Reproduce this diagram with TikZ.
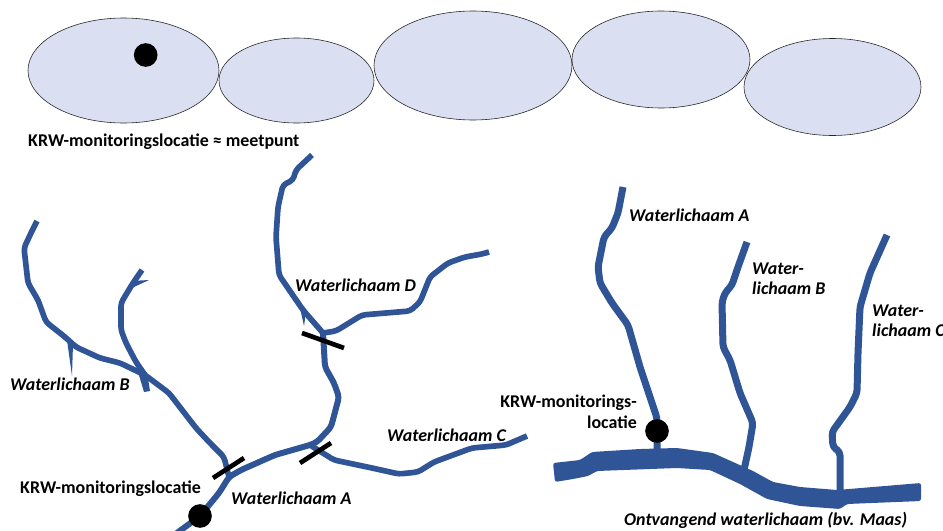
\documentclass[tikz,border=0pt]{standalone}
\usepackage{fontspec}
\setmainfont{Carlito}
\usepackage{tikz}
\usetikzlibrary{positioning,shapes.geometric}
\definecolor{riverblue}{RGB}{47,85,151}
\definecolor{lakefill}{RGB}{218,224,242}
\begin{document}
\begin{tikzpicture}[
    x=0.03cm, y=-0.03cm,
    lake/.style={draw=black!85, fill=lakefill, ellipse, inner sep=0pt, line width=0.5pt},
    river/.style={draw=riverblue, line width=0.18cm, line join=round, rounded corners=3pt},
    thinriver/.style={draw=riverblue, line width=0.17cm, line join=round, rounded corners=3pt},
    wideriver/.style={draw=riverblue, line width=0.21cm, line join=round, rounded corners=3pt},
    barb/.style={fill=riverblue},
    tick/.style={draw=black, line width=0.14cm},
    site/.style={circle, fill=black, minimum size=0.71cm, inner sep=0pt},
    lbl/.style={font=\fontsize{15.3pt}{18pt}\selectfont\bfseries, align=center, inner sep=0pt},
    wlbl/.style={font=\fontsize{15.3pt}{17pt}\selectfont\bfseries\itshape, align=left, inner sep=0pt}
]
    \useasboundingbox (0,0) rectangle (943,531);

    % Water bodies on top
    \node[lake, minimum width=5.73cm, minimum height=3.15cm] (lake1) at (123.5,70.5) {};
    \node[lake, minimum width=4.65cm, minimum height=2.55cm] (lake2) at (296.5,80.5) {};
    \node[lake, minimum width=5.94cm, minimum height=3.27cm] (lake3) at (473,65.5) {};
    \node[lake, minimum width=5.34cm, minimum height=2.91cm] (lake4) at (661,59.5) {};
    \node[lake, minimum width=5.31cm, minimum height=2.91cm] (lake5) at (832.5,87) {};
    \node[site] (site1) at (145.7,55) {};
    \node[lbl, anchor=west] (toplabel) at (28,142) {KRW-monitoringslocatie ≈ meetpunt};

    % Left river system
    \coordinate (mouth) at (177,533);
    \coordinate (junction) at (229,477);
    \coordinate (fork) at (145,375);
    \coordinate (forkc) at (310,445);
    \coordinate (forkd) at (323,333);
    \draw[river] (mouth) -- (200,516) -- (219,493) -- (junction) -- (241,470) -- (275,455) -- (forkc)
        -- (317,442) -- (331,427) -- (339,397) -- (334,383) -- (325,367) -- (forkd);
    \draw[thinriver] (forkd) -- (303,310) -- (279,275) -- (276,237) -- (278,207) -- (283,185)
        -- (293,180) -- (296,170) -- (312,155);
    \draw[thinriver] (forkd) -- (336,331) -- (362,315) -- (410,311) -- (420,302) -- (430,277)
        -- (448,263) -- (465,257) -- (482,254) -- (489,252);
    \draw[thinriver] (forkc) -- (334,460) -- (372,468) -- (399,474) -- (418,472) -- (434,462)
        -- (472,448) -- (506,445) -- (527,436);
    \draw[thinriver] (junction) -- (224,457) -- (210,443) -- (196,428) -- (169,393) -- (fork)
        -- (120,363) -- (100,358) -- (76,347) -- (65,337) -- (46,322) -- (38,300) -- (28,283)
        -- (24,248) -- (31,233) -- (37,221);
    \draw[thinriver] (fork) -- (136,362) -- (126,343) -- (121,330) -- (121,303) -- (133,283) -- (142,270);
    \fill[barb] (131,281) -- (149,280) -- (134,287) -- cycle;
    \fill[barb] (67,340) -- (72,376) -- (73,344) -- cycle;
    \fill[barb] (138,372) -- (144,392) -- (150,391) -- (147,372) -- cycle;
    \fill[barb] (300,308) -- (304,326) -- (306,312) -- cycle;

    % Boundaries
    \coordinate (t1a) at (302,333); \coordinate (t1b) at (344,348);
    \coordinate (t2a) at (213,478); \coordinate (t2b) at (244,458);
    \coordinate (t3a) at (300,463); \coordinate (t3b) at (331,443);
    \draw[tick] (t1a) -- (t1b);
    \draw[tick] (t2a) -- (t2b);
    \draw[tick] (t3a) -- (t3b);
    \node[site] (site2) at (200,516) {};

    % Labels left
    \node[wlbl, anchor=west] (wd) at (295,285) {Waterlichaam D};
    \node[wlbl, anchor=west] (wb) at (10,384) {Waterlichaam B};
    \node[wlbl, anchor=west] (wc) at (387,435) {Waterlichaam C};
    \node[wlbl, anchor=west] (wa) at (231,498) {Waterlichaam A};
    \node[lbl, anchor=west] (sitelabel) at (20,489) {KRW-monitoringslocatie};

    % Right river system
    \fill[riverblue, rounded corners=2pt] (553,463) -- (580,460) -- (592,452) -- (640,449) -- (677,448) -- (713,453)
        -- (753,471) -- (773,482) -- (800,487) -- (837,490) -- (921,483) -- (921,501) -- (847,504)
        -- (840,509) -- (800,506) -- (767,499) -- (740,484) -- (710,470) -- (677,468) -- (597,471)
        -- (588,476) -- (573,479) -- (555,482) -- cycle;
    \draw[wideriver] (623,187) -- (618,213) -- (612,228) -- (604,237) -- (598,267) -- (600,283)
        -- (612,303) -- (628,325) -- (640,367) -- (657,418) -- (657,455);
    \draw[wideriver] (747,242) -- (738,267) -- (732,285) -- (725,293) -- (722,302) -- (723,347)
        -- (730,360) -- (740,393) -- (753,423) -- (749,447) -- (744,470);
    \draw[wideriver] (887,235) -- (870,273) -- (860,307) -- (858,353) -- (857,393) -- (850,407)
        -- (832,432) -- (833,447) -- (840,452) -- (840,492);
    \node[site] (site3) at (657,431) {};
    \node[lbl, align=right, anchor=east] (sitelabel2) at (637,412) {KRW-monitorings-\\locatie};
    \node[wlbl, anchor=west] (wa2) at (629,215) {Waterlichaam A};
    \node[wlbl, anchor=west] (wb2) at (752,279) {Water-\\lichaam B};
    \node[wlbl, anchor=west] (wc2) at (872,321) {Water-\\lichaam C};
    \node[wlbl, anchor=west] (recv) at (624,520) {Ontvangend waterlichaam (bv. Maas)};
\end{tikzpicture}
\end{document}
